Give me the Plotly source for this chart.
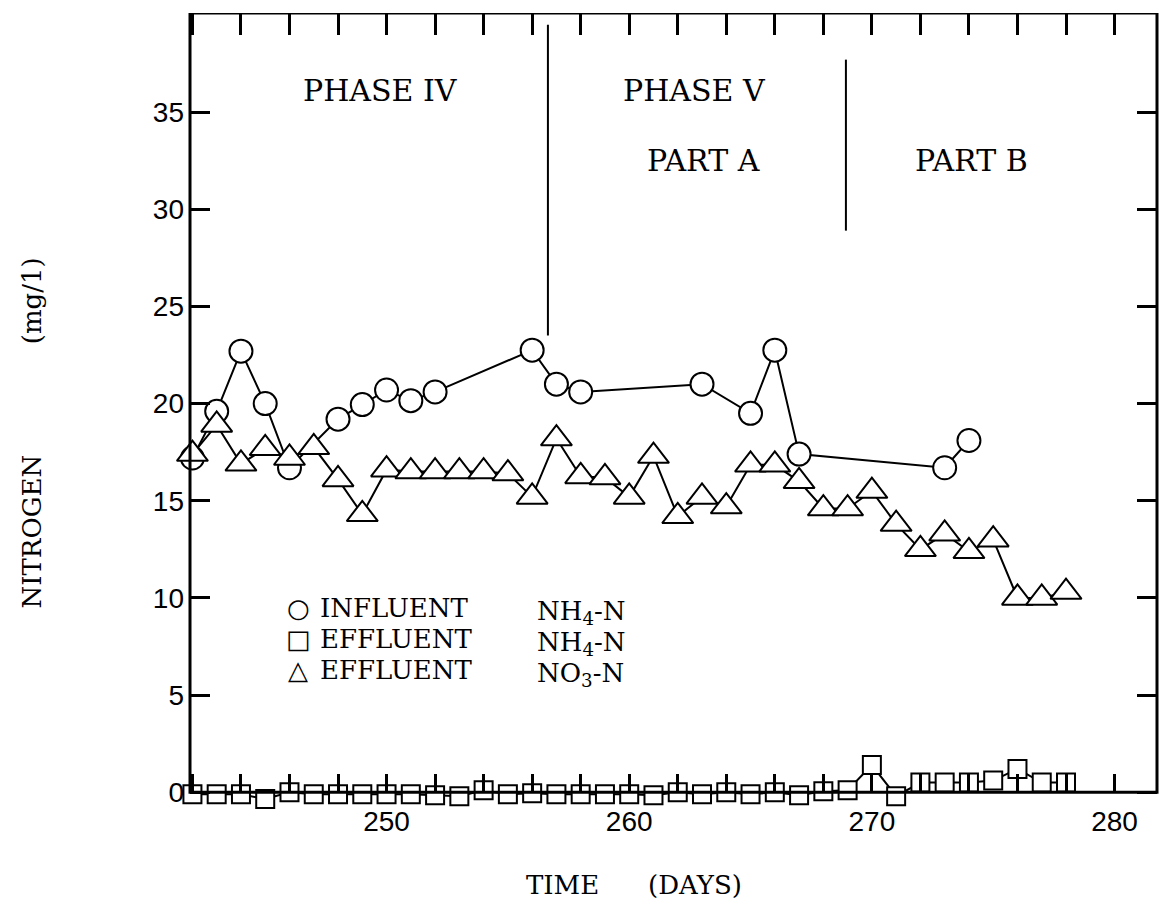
import plotly.graph_objects as go

# ---------------- data ----------------
days_influent = [242, 243, 244, 245, 246, 248, 249, 250, 251, 252,
                 256, 257, 258, 263, 265, 266, 267, 273, 274]
influent_nh4 = [17.2, 19.6, 22.7, 20.0, 16.7, 19.2, 19.95, 20.7, 20.15, 20.6,
                22.75, 21.0, 20.6, 21.0, 19.5, 22.75, 17.4, 16.7, 18.1]

days_effluent = list(range(242, 279))
effluent_nh4 = [-0.1, -0.1, -0.1, -0.35, 0.0, -0.1, -0.1, -0.1, -0.1, -0.1,
                -0.15, -0.2, 0.1, -0.1, -0.05, -0.1, -0.1, -0.1, -0.1, -0.15,
                0.0, -0.1, 0.0, -0.1, 0.0, -0.15, 0.05, 0.1, 1.4, -0.2,
                0.5, 0.5, 0.5, 0.6, 1.2, 0.5, 0.5]
effluent_no3 = [17.4, 18.9, 16.9, 17.7, 17.2, 17.75, 16.1, 14.3, 16.6, 16.5,
                16.5, 16.5, 16.5, 16.4, 15.2, 18.2, 16.25, 16.2, 15.2, 17.3,
                14.2, 15.2, 14.7, 16.85, 16.85, 16.0, 14.6, 14.6, 15.5, 13.8,
                12.5, 13.3, 12.4, 13.0, 10.0, 10.0, 10.3]

x_major_ticks = [250, 260, 270, 280]
x_minor_start, x_minor_step = 244, 2
y_ticks = [0, 5, 10, 15, 20, 25, 30, 35]

legend_symbols = ["\u25cb", "\u25a1", "\u25b3"]
legend_labels = ["INFLUENT", "EFFLUENT", "EFFLUENT"]
legend_formulas = ["NH<sub>4</sub>-N", "NH<sub>4</sub>-N", "NO<sub>3</sub>-N"]

phase_labels = ["PHASE IV", "PHASE V", "PART A", "PART B"]
phase_label_x = [249.73, 262.71, 263.08, 274.12]
phase_label_y = [36.1, 36.1, 32.5, 32.5]
phase_lines_x = [256.65, 268.93]
phase_lines_y0 = [23.5, 28.9]
phase_lines_y1 = [39.5, 37.7]

X_RANGE = [241.9, 281.75]
Y_RANGE = [-0.45, 40.1]

TYPE = "DejaVu Serif"
BLACK = "black"

fig = go.Figure()

line_style = dict(color=BLACK, width=2)
common = dict(mode="lines+markers", line=line_style, cliponaxis=False,
              showlegend=False, hoverinfo="skip")

fig.add_trace(go.Scatter(x=days_effluent, y=effluent_nh4,
                         marker=dict(symbol="square", size=18, color="white",
                                     line=dict(color=BLACK, width=2)),
                         **common))
fig.add_trace(go.Scatter(x=days_influent, y=influent_nh4,
                         marker=dict(symbol="circle", size=23, color="white",
                                     line=dict(color=BLACK, width=2)),
                         **common))
fig.add_trace(go.Scatter(x=days_effluent, y=effluent_no3,
                         marker=dict(symbol="triangle-up", size=27, color="white",
                                     line=dict(color=BLACK, width=2)),
                         **common))
# empty traces so the mirrored tick axes (top, right) are drawn
fig.add_trace(go.Scatter(x=[None], y=[None], xaxis="x2", yaxis="y",
                         showlegend=False, hoverinfo="skip"))
fig.add_trace(go.Scatter(x=[None], y=[None], xaxis="x", yaxis="y2",
                         showlegend=False, hoverinfo="skip"))

# frame: bottom edge sits at y = 0
fig.add_shape(type="rect", xref="paper", yref="y", x0=0, x1=1,
              y0=0, y1=Y_RANGE[1], line=dict(color=BLACK, width=3),
              fillcolor="rgba(0,0,0,0)", layer="above")

for x, y0, y1 in zip(phase_lines_x, phase_lines_y0, phase_lines_y1):
    fig.add_shape(type="line", xref="x", yref="y", x0=x, x1=x, y0=y0, y1=y1,
                  line=dict(color=BLACK, width=2))

for t, x, y in zip(phase_labels, phase_label_x, phase_label_y):
    fig.add_annotation(x=x, y=y, xref="x", yref="y", text=t, showarrow=False,
                       font=dict(family=TYPE, size=30, color=BLACK),
                       xanchor="center", yanchor="middle")

# legend (symbol + label + formula per row)
rows_y = [0.2450, 0.2056, 0.1662]
for sym, lab, form, ry in zip(legend_symbols, legend_labels, legend_formulas, rows_y):
    fig.add_annotation(xref="paper", yref="paper", x=0.1117, y=ry, text=sym,
                       showarrow=False, xanchor="center", yanchor="middle",
                       font=dict(family="DejaVu Sans", size=26, color=BLACK))
    fig.add_annotation(xref="paper", yref="paper", x=0.1324, y=ry, text=lab,
                       showarrow=False, xanchor="left", yanchor="middle",
                       font=dict(family=TYPE, size=26, color=BLACK))
    fig.add_annotation(xref="paper", yref="paper", x=0.3568, y=ry - 0.006, text=form,
                       showarrow=False, xanchor="left", yanchor="middle",
                       font=dict(family=TYPE, size=26, color=BLACK))

# axis titles
fig.add_annotation(xref="paper", yref="paper", x=-0.1634, y=0.342,
                   text="NITROGEN", textangle=-90, showarrow=False,
                   xanchor="center", yanchor="middle",
                   font=dict(family=TYPE, size=26, color=BLACK))
fig.add_annotation(xref="paper", yref="paper", x=-0.1634, y=0.6355,
                   text="(mg/1)", textangle=-90, showarrow=False,
                   xanchor="center", yanchor="middle",
                   font=dict(family=TYPE, size=26, color=BLACK))
fig.add_annotation(xref="paper", yref="paper", x=0.3847, y=-0.1066,
                   text="TIME", showarrow=False, xanchor="center", yanchor="middle",
                   font=dict(family=TYPE, size=26, color=BLACK))
fig.add_annotation(xref="paper", yref="paper", x=0.5222, y=-0.1066,
                   text="(DAYS)", showarrow=False, xanchor="center", yanchor="middle",
                   font=dict(family=TYPE, size=26, color=BLACK))

tick_common = dict(ticks="inside", tickwidth=2.5, tickcolor=BLACK,
                   showgrid=False, zeroline=False, showline=False,
                   tickfont=dict(family="Liberation Sans", size=28, color=BLACK))

fig.update_layout(
    width=1159, height=915,
    margin=dict(l=190, r=2, t=13, b=114),
    plot_bgcolor="white", paper_bgcolor="white",
    showlegend=False, hovermode=False,
    xaxis=dict(range=X_RANGE, tickmode="array", tickvals=x_major_ticks,
               ticktext=[str(v) for v in x_major_ticks], ticklen=18,
               minor=dict(tick0=x_minor_start, dtick=x_minor_step, ticks="inside",
                          ticklen=18, tickwidth=2.5, tickcolor=BLACK, showgrid=False),
               anchor="free",
               position=(0 - Y_RANGE[0]) / (Y_RANGE[1] - Y_RANGE[0]),
               ticklabelstandoff=10, **tick_common),
    xaxis2=dict(range=X_RANGE, matches="x", overlaying="x", side="top",
                anchor="y", tickmode="array", tickvals=x_major_ticks,
                ticklen=22,
                minor=dict(tick0=x_minor_start, dtick=x_minor_step, ticks="inside",
                           ticklen=22, tickwidth=2.5, tickcolor=BLACK, showgrid=False),
                showticklabels=False, **tick_common),
    yaxis=dict(range=Y_RANGE, tickmode="array", tickvals=y_ticks,
               ticktext=[str(v) for v in y_ticks], ticklen=20,
               ticklabelstandoff=5, **tick_common),
    yaxis2=dict(range=Y_RANGE, matches="y", overlaying="y", side="right",
                anchor="x", tickmode="array", tickvals=y_ticks, ticklen=20,
                showticklabels=False, **tick_common),
)

fig.write_html("out.html")
